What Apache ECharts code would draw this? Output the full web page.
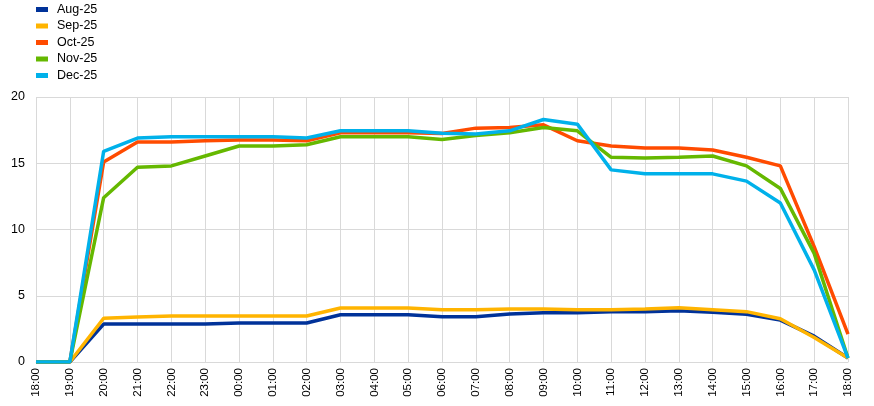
<!DOCTYPE html>
<html><head><meta charset="utf-8">
<script src="https://cdn.jsdelivr.net/npm/echarts@6/dist/echarts.min.js"></script>
<style>html,body{margin:0;padding:0;background:#fff}#c{width:874px;height:406px}</style>
</head><body><div id="c"></div>
<script>
const categories = ['18:00','19:00','20:00','21:00','22:00','23:00','00:00','01:00','02:00','03:00','04:00','05:00','06:00','07:00','08:00','09:00','10:00','11:00','12:00','13:00','14:00','15:00','16:00','17:00','18:00'];
const aug25 = [0,0,2.86,2.86,2.86,2.86,2.94,2.94,2.94,3.57,3.57,3.57,3.42,3.42,3.62,3.72,3.72,3.8,3.8,3.87,3.75,3.6,3.16,1.95,0.3];
const sep25 = [0,0,3.3,3.4,3.47,3.47,3.47,3.47,3.47,4.08,4.08,4.08,3.95,3.95,4.0,4.0,3.95,3.95,4.0,4.1,3.95,3.8,3.27,1.85,0.3];
const oct25 = [0,0,15.1,16.6,16.6,16.7,16.75,16.75,16.7,17.3,17.3,17.3,17.25,17.65,17.7,17.9,16.7,16.3,16.15,16.15,16.0,15.45,14.8,8.7,2.1];
const nov25 = [0,0,12.4,14.7,14.8,15.55,16.3,16.3,16.4,17.0,17.0,17.0,16.8,17.1,17.3,17.7,17.45,15.45,15.4,15.45,15.55,14.8,13.1,8.2,0.3];
const dec25 = [0,0,15.9,16.9,17.0,17.0,17.0,17.0,16.9,17.45,17.45,17.45,17.27,17.2,17.45,18.3,17.95,14.5,14.2,14.2,14.2,13.65,12.0,6.95,0.3];
const yTicks = {min:0,max:20,interval:5};

const names = ['Aug-25','Sep-25','Oct-25','Nov-25','Dec-25'];
const colors = ['#003299','#FFB400','#FF4B00','#65B800','#00B1EA'];
const datas = [aug25,sep25,oct25,nov25,dec25];

const chart = echarts.init(document.getElementById('c'), null, {renderer:'canvas'});
chart.setOption({
  animation:false,
  textStyle:{fontFamily:'Liberation Sans, Arial, sans-serif'},
  legend:{
    orient:'vertical', left:31, top:-2, itemWidth:12, itemHeight:5, itemGap:3.5,
    icon:'rect',
    textStyle:{fontSize:12.5,color:'#000',fontFamily:'Liberation Sans, Arial, sans-serif', padding:[0,0,0,4]},
    data:names
  },
  grid:{left:36,right:26,top:97,bottom:44,containLabel:false},
  xAxis:{
    type:'category', boundaryGap:false, data:categories,
    axisLine:{lineStyle:{color:'#d9d9d9'}},
    axisTick:{show:false},
    splitLine:{show:true,lineStyle:{color:'#d9d9d9',width:1}},
    axisLabel:{rotate:90,fontSize:11.5,color:'#000',margin:6,interval:0,fontFamily:'Liberation Sans, Arial, sans-serif'}
  },
  yAxis:{
    type:'value', min:yTicks.min, max:yTicks.max, interval:yTicks.interval,
    axisLine:{show:false}, axisTick:{show:false},
    splitLine:{lineStyle:{color:'#d9d9d9',width:1}},
    axisLabel:{fontSize:12.5,color:'#000',margin:11,fontFamily:'Liberation Sans, Arial, sans-serif'}
  },
  series: names.map((n,i)=>({
    name:n, type:'line', data:datas[i], symbol:'none', color:colors[i],
    lineStyle:{width:3.5,color:colors[i]}, z:2+i
  }))
});
</script></body></html>
